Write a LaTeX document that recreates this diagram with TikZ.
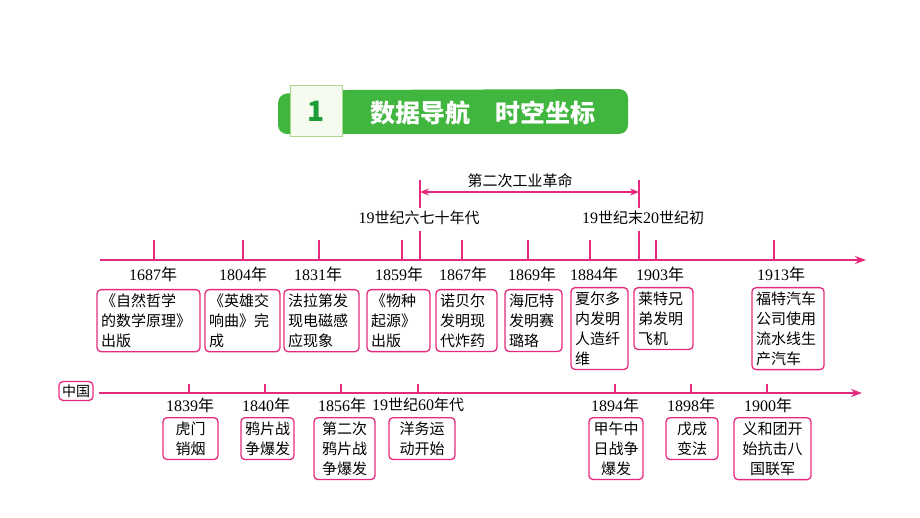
\documentclass[tikz,border=0pt]{standalone}
\usepackage{fontspec}
\setmainfont{Liberation Serif}
\newfontfamily\cjk{Noto Sans CJK SC}
\usetikzlibrary{arrows.meta}
\definecolor{tlpink}{RGB}{229,42,125}
\definecolor{bannergreen}{RGB}{64,182,62}
\definecolor{numgreen}{RGB}{30,158,58}
\definecolor{numfill}{RGB}{246,251,240}
\definecolor{numdraw}{RGB}{170,216,140}
\newcommand{\nian}{{\cjk 年}}
\tikzset{
  pinkline/.style={draw=tlpink, line width=1.4pt},
  evbox/.style={draw=tlpink, line width=1.3pt, rounded corners=4pt, anchor=north,
    inner sep=4pt, align=left, font=\cjk\fontsize{15}{20}\selectfont},
  cnbox/.style={evbox, align=center},
  yrlabel/.style={inner sep=0pt, font=\fontsize{16}{18}\selectfont},
}
\begin{document}
\begin{tikzpicture}[x=1pt,y=-1pt]
  \useasboundingbox[fill=white] (0,0) rectangle (920,518);
  % banner
  \fill[bannergreen, rounded corners=9pt] (278,94) -- (342,90) -- (628,89) -- (628,134) -- (278,134) -- cycle;
  \node[draw=numdraw, fill=numfill, line width=1pt, minimum width=52pt, minimum height=51pt,
        text=numgreen, font=\cjk\bfseries\fontsize{28}{30}\selectfont] (num) at (316,111) {1};
  \node[text=white, font=\cjk\bfseries\fontsize{25}{28}\selectfont] (title) at (483,113) {数据导航\hspace{1em}时空坐标};
  % second industrial revolution
  \coordinate (ir1) at (420,260);
  \coordinate (ir2) at (639,260);
  \draw[pinkline] (420,180) -- (420,208);
  \draw[pinkline] (639,180) -- (639,208);
  \draw[pinkline, {Stealth[length=9pt,width=7pt]}-{Stealth[length=9pt,width=7pt]}] (420,192) -- (639,192);
  \node[yrlabel, font=\cjk\fontsize{15}{18}\selectfont] (irlab) at (520,181) {第二次工业革命};
  \node[yrlabel] (irstart) at (419,218) {19{\cjk\fontsize{15}{18}\selectfont 世纪六七十年代}};
  \node[yrlabel] (irend) at (643,218) {19{\cjk\fontsize{15}{18}\selectfont 世纪末}20{\cjk\fontsize{15}{18}\selectfont 世纪初}};
  \draw[pinkline] (irstart.south -| ir1) ++(0,6) -- (ir1);
  \draw[pinkline] (irend.south -| ir2) ++(0,6) -- (ir2);
  % world axis
  \coordinate (w0) at (100,260);
  \coordinate (w1) at (866,260);
  \draw[pinkline, -{Stealth[length=11pt,width=8pt]}] (w0) -- (w1);
  \draw[pinkline] (154,260) -- (154,240);
  \draw[pinkline] (243,260) -- (243,240);
  \draw[pinkline] (319,260) -- (319,240);
  \draw[pinkline] (402,260) -- (402,240);
  \draw[pinkline] (462,260) -- (462,240);
  \draw[pinkline] (528,260) -- (528,240);
  \draw[pinkline] (590,260) -- (590,240);
  \draw[pinkline] (656,260) -- (656,240);
  \draw[pinkline] (774,260) -- (774,240);
  \node[yrlabel] (y1687) at (153,274) {1687\nian};
  \node[yrlabel] (y1804) at (243,274) {1804\nian};
  \node[yrlabel] (y1831) at (318,274) {1831\nian};
  \node[yrlabel] (y1859) at (399,274) {1859\nian};
  \node[yrlabel] (y1867) at (463,274) {1867\nian};
  \node[yrlabel] (y1869) at (532,274) {1869\nian};
  \node[yrlabel] (y1884) at (594,274) {1884\nian};
  \node[yrlabel] (y1903) at (660,274) {1903\nian};
  \node[yrlabel] (y1913) at (781,274) {1913\nian};
  \node[evbox, text width=95pt] (e1687) at (148.5,289) {《自然哲学\\的数学原理》\\出版};
  \node[evbox, text width=67pt] (e1804) at (242.5,289) {《英雄交\\响曲》完\\成};
  \node[evbox, text width=67pt] (e1831) at (321.5,289) {法拉第发\\现电磁感\\应现象};
  \node[evbox, text width=55pt] (e1859) at (398.5,289) {《物种\\起源》\\出版};
  \node[evbox, text width=53pt] (e1867) at (466.5,289) {诺贝尔\\发明现\\代炸药};
  \node[evbox, text width=49pt] (e1869) at (533.5,289) {海厄特\\发明赛\\璐珞};
  \node[evbox, text width=49pt] (e1884) at (599.5,287) {夏尔多\\内发明\\人造纤\\维};
  \node[evbox, text width=51pt] (e1903) at (663.5,287) {莱特兄\\弟发明\\飞机};
  \node[evbox, text width=64pt] (e1913) at (788,287) {福特汽车\\公司使用\\流水线生\\产汽车};
  % china axis
  \node[draw=tlpink, line width=1.3pt, rounded corners=4pt, inner sep=3pt,
        font=\cjk\fontsize{14}{16}\selectfont] (china) at (76,391) {中国};
  \coordinate (c1) at (862,393);
  \draw[pinkline, -{Stealth[length=11pt,width=8pt]}] (china.east |- c1) ++(5,0) -- (c1);
  \draw[pinkline] (189,393) -- (189,384);
  \draw[pinkline] (265,393) -- (265,384);
  \draw[pinkline] (341,393) -- (341,384);
  \draw[pinkline] (418,393) -- (418,384);
  \draw[pinkline] (615,393) -- (615,384);
  \draw[pinkline] (691,393) -- (691,384);
  \draw[pinkline] (767,393) -- (767,384);
  \node[yrlabel] (c1839) at (190,405) {1839\nian};
  \node[yrlabel] (c1840) at (266,405) {1840\nian};
  \node[yrlabel] (c1856) at (342,405) {1856\nian};
  \node[yrlabel] (c1860) at (418,405) {19{\cjk\fontsize{15}{18}\selectfont 世纪}60{\cjk\fontsize{15}{18}\selectfont 年代}};
  \node[yrlabel] (c1894) at (615,405) {1894\nian};
  \node[yrlabel] (c1898) at (691,405) {1898\nian};
  \node[yrlabel] (c1900) at (768,405) {1900\nian};
  \node[cnbox, text width=47pt] (d1839) at (190.5,417) {虎门\\销烟};
  \node[cnbox, text width=45pt] (d1840) at (267.5,417) {鸦片战\\争爆发};
  \node[cnbox, text width=53pt] (d1856) at (344.5,417) {第二次\\鸦片战\\争爆发};
  \node[cnbox, text width=58pt] (d1860) at (422,417) {洋务运\\动开始};
  \node[cnbox, text width=46pt] (d1894) at (616,417) {甲午中\\日战争\\爆发};
  \node[cnbox, text width=44pt] (d1898) at (692,417) {戊戌\\变法};
  \node[cnbox, text width=69pt] (d1900) at (772.5,417) {义和团开\\始抗击八\\国联军};
\end{tikzpicture}
\end{document}
